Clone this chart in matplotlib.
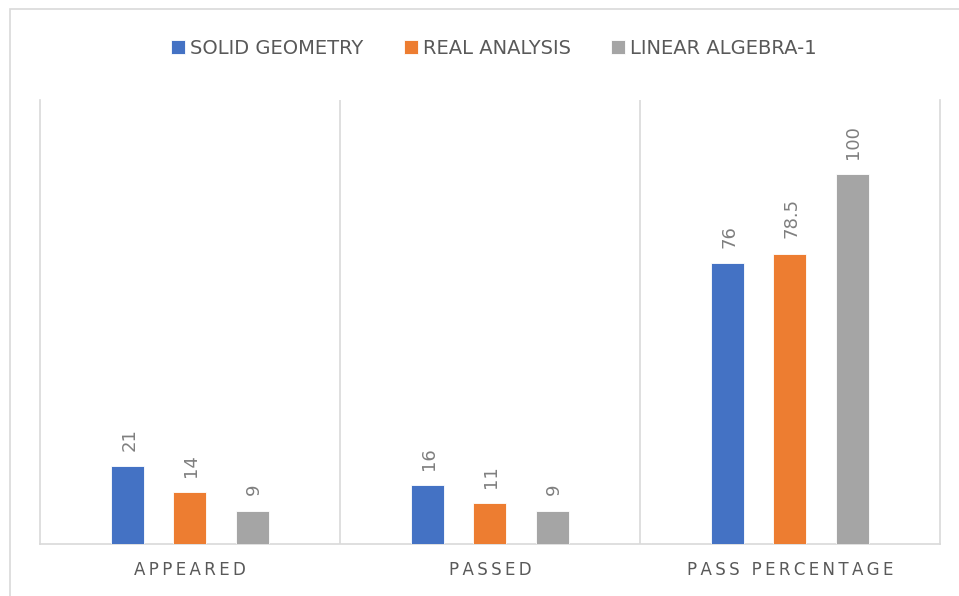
import matplotlib.pyplot as plt
import numpy as np
from matplotlib.patches import Rectangle

# data
categories = ["APPEARED", "PASSED", "PASS PERCENTAGE"]
solid_geometry = [21, 16, 76]
real_analysis = [14, 11, 78.5]
linear_algebra = [9, 9, 100]
series_names = ["SOLID GEOMETRY", "REAL ANALYSIS", "LINEAR ALGEBRA-1"]
colors = ["#4472C4", "#ED7D31", "#A5A5A5"]


def spaced(label: str) -> str:
    """Letter-spaced category label, like the tracked axis text."""
    thin = "\u2009"
    return (thin + " " + thin).join(thin.join(w) for w in label.split(" "))


fig = plt.figure(figsize=(9.59, 5.96), dpi=100)
ax = fig.add_axes([40 / 959, 52 / 596, 900 / 959, 444 / 596])

x = np.arange(len(categories))
width = 0.11
offset = 0.207
for i, (vals, name, col) in enumerate(zip(
        [solid_geometry, real_analysis, linear_algebra], series_names, colors)):
    pos = x + (i - 1) * offset
    bars = ax.bar(pos, vals, width, color=col, label=name,
                  edgecolor='white', linewidth=0.6, zorder=3)
    for b, v in zip(bars, vals):
        ax.annotate(f"{v:g}", (b.get_x() + b.get_width() / 2, v),
                    xytext=(1, 11), textcoords='offset points',
                    rotation=90, ha='center', va='bottom',
                    fontsize=13, color='#7F7F7F')

ax.set_xlim(-0.5, 2.5)
ax.set_ylim(0, 120)
ax.set_yticks([])
ax.set_xticks(x)
ax.set_xticklabels([spaced(c) for c in categories], fontsize=12, color='#595959')
ax.tick_params(axis='x', length=0, pad=12)

for sep in [0.5, 1.5]:
    ax.axvline(sep, color='#D9D9D9', linewidth=1.2, zorder=1)
ax.spines['top'].set_visible(False)
for side in ['left', 'right', 'bottom']:
    ax.spines[side].set_color('#D9D9D9')
    ax.spines[side].set_linewidth(1.2)

fig.legend(loc='center', bbox_to_anchor=(494 / 959, 1 - 48 / 596), ncol=3,
           frameon=False, fontsize=14, handlelength=0.7, handleheight=0.7,
           handletextpad=0.26, columnspacing=2.1, labelcolor='#595959')

# light outer frame, cut off by the right and bottom edges
fig.patches.append(Rectangle((9.5 / 959, -0.1), 1.2, 1.1 - 9.5 / 596,
                             transform=fig.transFigure, fill=False,
                             edgecolor='#D9D9D9', linewidth=1.2))

fig.savefig("out.png", dpi=100)
